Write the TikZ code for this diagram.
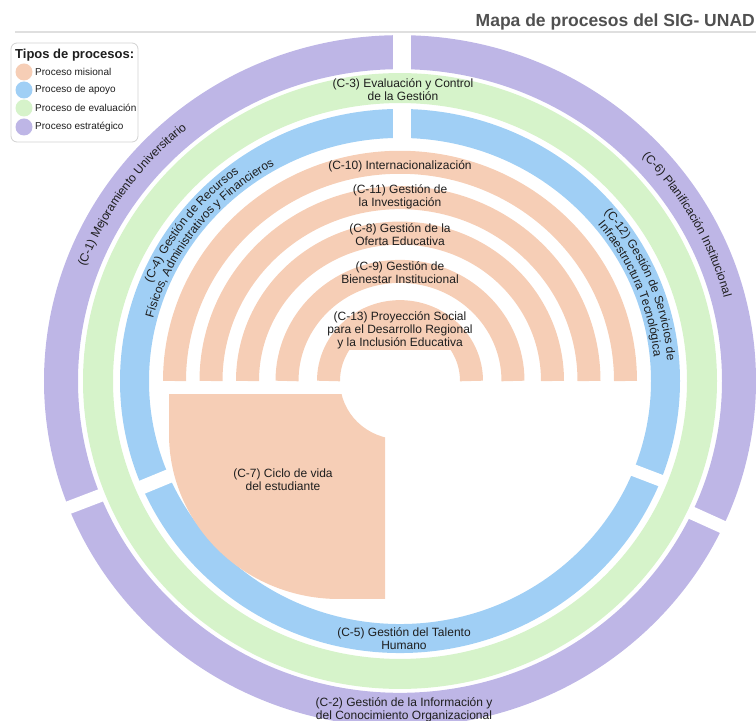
\documentclass[tikz,border=0pt]{standalone}
\usepackage{fontspec}
\setmainfont{Liberation Sans}
\usetikzlibrary{decorations.text}
\definecolor{peach}{RGB}{246,206,182}
\definecolor{pblue}{RGB}{160,207,245}
\definecolor{pgreen}{RGB}{214,243,202}
\definecolor{ppurple}{RGB}{190,182,230}
\definecolor{txt}{RGB}{30,30,30}
\definecolor{ttl}{RGB}{80,80,80}
\newcommand\labf{\fontsize{12}{13}\selectfont}
\begin{document}
\begin{tikzpicture}[x=1pt,y=1pt,
  lab/.style={font=\labf, text=txt, align=center, inner sep=1pt},
  legtxt/.style={font=\fontsize{10}{12}\selectfont, text=txt, anchor=west, inner sep=0pt},
  legdot/.style={circle, minimum size=17pt, inner sep=0pt}]
\useasboundingbox (0,0) rectangle (756,721);
\clip (0,0) rectangle (756,721);
\coordinate (C) at (400,340);

% rings
\begin{scope}[shift={(C)}, yscale=0.97]
  \draw[ppurple, line width=34pt] (0,0) circle (339);
  \draw[pblue, line width=29pt] (0,0) circle (265.5);
  % gaps
  \draw[white, line width=18pt] (2,240) -- (2,370);
  \draw[white, line width=13pt] (201.5:318) -- (201.5:362);
  \draw[white, line width=14pt] (203:245) -- (203:284);
  \draw[white, line width=12pt] (338.5:245) -- (338.5:284);
  \draw[white, line width=13pt] (335:318) -- (335:362);
  \draw[pgreen, line width=30pt] (0,0) circle (302);
  \foreach \r in {71.5,113,152.5,189,225.5}
    \draw[peach, line width=23pt] (0:\r) arc (0:180:\r);
\end{scope}
% label backing over the top of the inner hole
\begin{scope}
  \clip (0,371) rectangle (756,721);
  \fill[peach] (C) ellipse [x radius=62, y radius=60];
\end{scope}

% C-7 piece
\begin{scope}
  \clip (0,0) rectangle (385,326);
  \fill[peach, even odd rule] (169,340) -- (169,287)
     arc[start angle=180, end angle=270, x radius=170, y radius=165]
     -- (400,122) -- (400,340) -- cycle
     (C) ellipse [x radius=60, y radius=58.2];
\end{scope}

% straight labels
\node[lab] (c3) at (403,631) {(C-3) Evaluación y Control\\de la Gestión};
\node[lab] (c10) at (400,555) {(C-10) Internacionalización};
\node[lab] (c11) at (400,524.5) {(C-11) Gestión de\\la Investigación};
\node[lab] (c8) at (400,486) {(C-8) Gestión de la\\Oferta Educativa};
\node[lab] (c9) at (400,448.5) {(C-9) Gestión de\\Bienestar Institucional};
\node[lab] (c13) at (400,391) {(C-13) Proyección Social\\para el Desarrollo Regional\\y la Inclusión Educativa};
\node[lab] (c7) at (283,241.5) {(C-7) Ciclo de vida\\del estudiante};
\node[lab] (c5) at (404,82.5) {(C-5) Gestión del Talento\\Humano};
\node[lab] (c2) at (404,11.5) {(C-2) Gestión de la Información y\\del Conocimiento Organizacional};

% curved labels
\begin{scope}[shift={(C)}, yscale=0.97]
  \path[decorate, decoration={text along path, text align=center,
    text={|\labf\color{txt}|(C-1) Mejoramiento Universitario}}] (205:336) arc (205:85:336);
  \path[decorate, decoration={text along path, text align=center,
    text={|\labf\color{txt}|(C-4) Gestión de Recursos}}] (203:268) arc (203:83:268);
  \path[decorate, decoration={text along path, text align=center,
    text={|\labf\color{txt}|Físicos, Administrativos y Financieros}}] (203:255) arc (203:83:255);
  \path[decorate, decoration={text along path, text align=center,
    text={|\labf\color{txt}|(C-6) Planificación Institucional}}] (88.8:335) arc (88.8:-31.2:335);
  \path[decorate, decoration={text along path, text align=center,
    text={|\labf\color{txt}|(C-12) Gestión de Servicios de}}] (82:268) arc (82:-38:268);
  \path[decorate, decoration={text along path, text align=center,
    text={|\labf\color{txt}|Infraestructura Tecnológica}}] (82:255) arc (82:-38:255);
\end{scope}

% title
\node[font=\bfseries\fontsize{17.5}{20}\selectfont, text=ttl, anchor=base east, inner sep=0pt] (title) at (755,694.3) {Mapa de procesos del SIG- UNAD};
\draw[gray!25, line width=2pt] (15,689.3) -- (756,689.3);

% legend
\draw[gray!35, fill=white, rounded corners=6pt, line width=0.8pt] (11,678) rectangle (138,579);
\node[font=\bfseries\fontsize{13}{15}\selectfont, text=txt, anchor=base west, inner sep=0pt] (legt) at (15,662.7) {Tipos de procesos:};
\node[legdot, fill=peach] (l1) at (24,649) {};
\node[legdot, fill=pblue] (l2) at (24,631) {};
\node[legdot, fill=pgreen] (l3) at (24,613) {};
\node[legdot, fill=ppurple] (l4) at (24,594) {};
\node[legtxt] (t1) at (35,649) {Proceso misional};
\node[legtxt] (t2) at (35,631) {Proceso de apoyo};
\node[legtxt] (t3) at (35,613) {Proceso de evaluación};
\node[legtxt] (t4) at (35,594) {Proceso estratégico};
\end{tikzpicture}
\end{document}
